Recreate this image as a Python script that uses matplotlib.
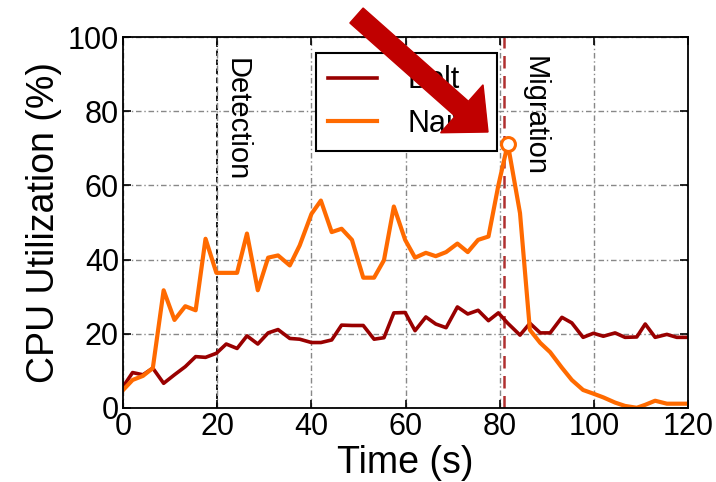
import matplotlib
matplotlib.use("Agg")
from matplotlib import pyplot as plt
from matplotlib.patches import FancyArrow
from matplotlib.transforms import IdentityTransform

plt.rcParams['font.family'] = ['Liberation Sans', 'DejaVu Sans']

# time stamps (s)
time = [0, 2, 4.2, 6.3, 8.6, 10.9, 13.2, 15.4, 17.5, 19.8,
        21.9, 24.2, 26.3, 28.6, 30.8, 32.9, 35.4, 37.5, 40, 42,
        44.3, 46.4, 48.6, 51, 53.3, 55.4, 57.5, 59.9, 62, 64.3,
        66.4, 68.6, 71, 73.2, 75.4, 77.6, 79.7, 81.7, 84.3, 86.4,
        88.6, 90.7, 93.2, 95.3, 97.7, 99.9, 102, 104.5, 106.6, 109.1,
        110.9, 113, 115.5, 117.6, 119.8]

bolt = [5.7, 9.5, 8.9, 10.7, 6.6, 8.9, 11.1, 13.8, 13.6, 14.7,
        17.2, 16, 19.4, 17.2, 20.2, 21.1, 18.7, 18.5, 17.6, 17.6,
        18.3, 22.3, 22.2, 22.2, 18.5, 18.9, 25.6, 25.7, 20.8, 24.5,
        22.6, 21.6, 27.2, 25.3, 26.3, 23.5, 25.6, 22.8, 19.6, 22.8,
        20.2, 20.2, 24.4, 22.9, 19, 20.1, 19.3, 20.2, 19, 19.1,
        22.6, 19, 19.8, 19, 19]

naive = [4.8, 7.5, 8.6, 10.7, 31.7, 23.7, 27.4, 26.3, 45.6, 36.4,
         36.4, 36.4, 47, 31.7, 40.5, 41.1, 38.4, 43.8, 52.3, 55.9,
         47.4, 48.3, 45.3, 35.1, 35.1, 39.8, 54.3, 45.3, 40.5, 41.8,
         40.9, 42, 44.3, 42, 45.3, 46.2, 60, 71.2, 52.5, 21,
         17.5, 15, 10.8, 7.5, 4.8, 3.8, 2.8, 1.4, 0.5, 0,
         0.8, 1.9, 1.1, 1.1, 1.1]

peak_t, peak_v = 81.7, 71.2
detection_t = 20
migration_t = 80.8

fig = plt.figure(figsize=(7.16, 4.82), dpi=100)
ax = fig.add_axes([0.172, 0.154, 0.789, 0.769])

ax.plot(time, bolt, color='#990000', lw=2.6, label='Bolt')
ax.plot(time, naive, color='#ff6a00', lw=3.0, label='Naive')
ax.plot([peak_t], [peak_v], 'o', ms=10, mfc='white', mec='#ff6a00', mew=2.2)

ax.axvline(detection_t, color='black', lw=1.3, ls=(0, (3, 2)), zorder=1)
ax.axvline(migration_t, color='#b03030', lw=1.8, ls=(0, (5, 3)), zorder=1)

ax.text(24, 94.3, 'Detection', rotation=-90, ha='center', va='top', fontsize=21)
ax.text(87.5, 94.8, 'Migration', rotation=-90, ha='center', va='top', fontsize=21)

ax.set_xlim(0, 120)
ax.set_ylim(0, 100)
ax.set_xticks([0, 20, 40, 60, 80, 100, 120])
ax.set_yticks([0, 20, 40, 60, 80, 100])
ax.grid(True, color='#888888', lw=1.0, ls=(0, (4, 2, 1, 2)))
ax.tick_params(direction='in', top=True, right=True, length=6, width=1.2,
               labelsize=22, pad=3)
for s in ax.spines.values():
    s.set_linewidth(1.3)

ax.set_xlabel('Time (s)', fontsize=27, labelpad=2)
ax.set_ylabel('CPU Utilization (%)', fontsize=27, labelpad=4)

leg = ax.legend(loc='upper left', bbox_to_anchor=(0.341, 0.957), fontsize=22,
                frameon=True, fancybox=False, handlelength=1.6,
                handletextpad=1.0, borderpad=0.4, labelspacing=0.45,
                borderaxespad=0)
leg.get_frame().set_edgecolor('black')
leg.get_frame().set_linewidth(1.5)
leg.get_frame().set_alpha(1)

# big red arrow drawn in pixel coordinates
arrow = FancyArrow(356.5, 482 - 15.5, 131.5, -116.5, width=20, head_width=64,
                   head_length=35, length_includes_head=True,
                   color='#c00000', transform=IdentityTransform(), zorder=10)
fig.add_artist(arrow)

fig.savefig('out.png', dpi=100)
